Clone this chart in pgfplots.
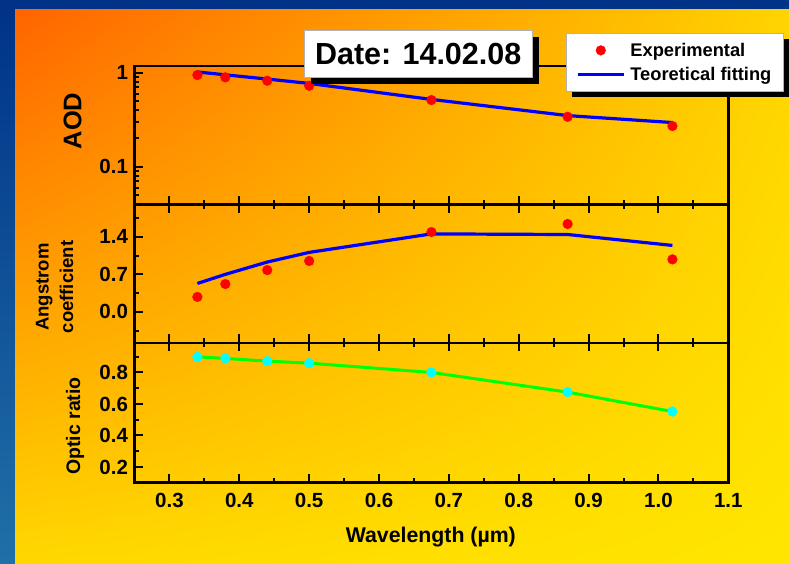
\documentclass[border=0pt]{standalone}
\usepackage{pgfplots}
\pgfplotsset{compat=1.18}
\usepackage{fontspec}
\setmainfont{Liberation Sans}
\usetikzlibrary{shadows,shadings}
\definecolor{bgblue}{HTML}{003388}
\definecolor{bgblue2}{HTML}{2070A8}
\definecolor{gUL}{HTML}{FF6400}
\definecolor{gUR}{HTML}{FFD400}
\definecolor{gLL}{HTML}{FFD800}
\definecolor{gLR}{HTML}{FFE600}
\definecolor{cyanc}{HTML}{00FFFF}
\definecolor{greenc}{HTML}{00FF00}
\definecolor{redc}{HTML}{FF0000}
\definecolor{bluec}{HTML}{0000FF}
\newcommand{\fs}[1]{\bfseries\fontsize{#1}{#1}\selectfont}
\pgfplotsset{
  panel/.style={
    scale only axis, width=593.8pt,
    xmin=0.25, xmax=1.1,
    xtick={0.3,0.4,0.5,0.6,0.7,0.8,0.9,1.0,1.1},
    minor x tick num=1,
    ytick pos=left,
    xticklabel pos=left,
    tick align=inside,
    major tick length=8.5pt, minor tick length=4.5pt,
    tick style={black, line width=2pt},
    axis line style={black, line width=2.7pt},
    ticklabel style={font=\fs{20.5}},
    yticklabel style={xshift=-3pt},
    xticklabel style={yshift=-7pt},
    anchor=south west,
  },
  expstyle/.style={only marks, mark=*, mark size=4.9pt, mark options={draw=redc, fill=redc, line width=0.3pt}},
  fitstyle/.style={bluec, line width=3.2pt, no marks},
}
\begin{document}
\begin{tikzpicture}[x=1pt,y=1pt]
\useasboundingbox (0,0) rectangle (789,564);
\fill[bgblue] (0,0) rectangle (789,564);
\shade[top color=bgblue, bottom color=bgblue2] (0,0) rectangle (15,554);
\shade[upper left=gUL, upper right=gUR, lower left=gLL, lower right=gLR] (15,0) rectangle (789,554);
% legend shadow
\fill[black] (571.7,466.7) rectangle (789.3,524.7);

% Panel 1: AOD
\begin{axis}[panel, at={(134.5pt,359.3pt)}, height=138.7pt,
  ymode=log, ymin=0.0394, ymax=1.18,
  ytick={0.1,1}, yticklabels={0.1,1},
  minor ytick={0.04,0.05,0.06,0.07,0.08,0.09,0.2,0.3,0.4,0.5,0.6,0.7,0.8,0.9},
  xtick pos=left, xticklabels={},
  legend style={at={(0.726,1.236)}, anchor=north west, draw=gray!60, line width=0.8pt, fill=white,
    font=\fs{18.3}, inner xsep=0pt, inner ysep=0pt, row sep=5.5pt, column sep=3pt,
    minimum width=217.6pt, minimum height=57.7pt,
    nodes={minimum width=0pt, minimum height=0pt}},
  legend cell align=left,
  legend image code/.code={\draw[mark repeat=2,mark phase=2,#1] plot coordinates {(0pt,0pt) (23pt,0pt) (46pt,0pt)};},
]
\addplot[expstyle] coordinates {(0.34,0.945) (0.38,0.893) (0.44,0.822) (0.50,0.727) (0.675,0.512) (0.87,0.340) (1.02,0.271)};
\addlegendentry{Experimental}
\addplot[fitstyle] coordinates {(0.34,1.02) (0.38,0.95) (0.44,0.857) (0.50,0.77) (0.675,0.52) (0.87,0.35) (1.02,0.295)};
\addlegendentry{Teoretical fitting}
\end{axis}

% Panel 2: Angstrom coefficient
\begin{axis}[panel, at={(134.5pt,221pt)}, height=138.3pt,
  ymin=-0.58, ymax=2.0,
  ytick={0,0.7,1.4}, yticklabels={0.0,0.7,1.4},
  minor ytick={-0.35,0.35,1.05,1.75},
  xtick pos=both, xticklabels={},
]
\addplot[expstyle] coordinates {(0.34,0.28) (0.38,0.52) (0.44,0.78) (0.50,0.95) (0.675,1.49) (0.87,1.64) (1.02,0.98)};
\addplot[fitstyle] coordinates {(0.34,0.53) (0.38,0.70) (0.44,0.93) (0.50,1.11) (0.675,1.455) (0.87,1.444) (1.02,1.24)};
\end{axis}

% Panel 3: Optic ratio
\begin{axis}[panel, at={(134.5pt,81.3pt)}, height=139.7pt,
  ymin=0.1, ymax=0.987,
  ytick={0.2,0.4,0.6,0.8}, yticklabels={0.2,0.4,0.6,0.8},
  minor ytick={0.3,0.5,0.7,0.9},
  xtick pos=both,
  xticklabels={0.3,0.4,0.5,0.6,0.7,0.8,0.9,1.0,1.1},
]
\addplot[greenc, line width=3pt, mark=*, mark size=4.9pt, mark options={draw=cyanc, fill=cyanc, line width=0.3pt}]
  coordinates {(0.34,0.899) (0.38,0.889) (0.44,0.872) (0.50,0.859) (0.675,0.80) (0.87,0.675) (1.02,0.552)};
\end{axis}

\node[draw=gray!60, line width=0.8pt, fill=white, minimum width=228.3pt, minimum height=47pt, inner sep=0pt,
  font=\fs{30.5}, drop shadow={shadow xshift=6.5pt, shadow yshift=-6.5pt, fill=black, opacity=1}]
  at (418.2,509.8) {Date: 14.02.08};

\node[rotate=90, font=\fs{25.5}] at (72.5,443) {AOD};
\node[rotate=90, font=\bfseries\fontsize{18.5}{24.5}\selectfont, align=center] at (54.5,277) {Angstrom\\coefficient};
\node[rotate=90, font=\fs{19.5}] at (75,138) {Optic ratio};
\node[font=\fs{21.3}] at (430.8,26.5) {Wavelength (µm)};
\end{tikzpicture}
\end{document}
